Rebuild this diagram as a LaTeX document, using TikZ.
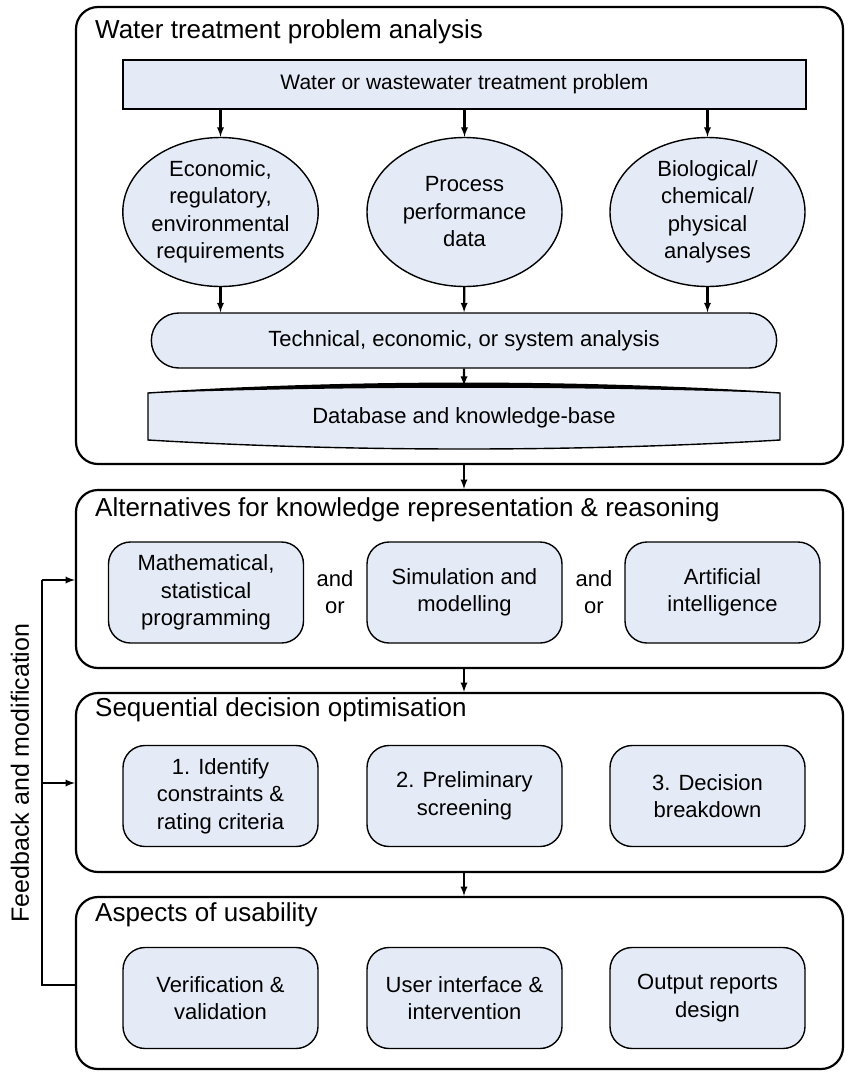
\documentclass[tikz,border=0pt]{standalone}
\usepackage{fontspec}
\setmainfont{Liberation Sans}
\usetikzlibrary{calc,shapes.geometric,shapes.misc}
\definecolor{boxfill}{RGB}{229,235,246}
\newcommand{\txtsize}{\fontsize{22}{27.5}\selectfont}
\newcommand{\titlesize}{\fontsize{26}{30}\selectfont}
\tikzset{
  section/.style={draw, line width=2.2pt, rounded corners=22pt, minimum width=767pt, inner sep=0pt},
  sectitle/.style={anchor=west, inner sep=0pt, font=\titlesize},
  item/.style={draw, fill=boxfill, line width=1.4pt, rounded corners=22pt, minimum width=195pt, minimum height=101pt, align=center, font=\txtsize},
  blob/.style={draw, fill=boxfill, line width=1.4pt, ellipse, inner sep=0pt, minimum width=195pt, minimum height=149pt, align=center, font=\txtsize},
  arr/.style={line width=2.2pt, -latex},
}

\begin{document}
\begin{tikzpicture}[x=1pt,y=-1pt]
                \useasboundingbox (0,0) rectangle (845,1072);

                \node[section, minimum height=457pt] (sec1) at (459.5,235.5) {};
                \node[section, minimum height=178pt] (sec2) at (459.5,579) {};
                \node[section, minimum height=179pt] (sec3) at (459.5,782.5) {};
                \node[section, minimum height=172pt] (sec4) at (459.5,983) {};

                \node[sectitle] (title1) at (95,32) {Water treatment problem analysis};
                \node[sectitle] (title2) at (95,510) {Alternatives for knowledge representation \& reasoning};
                \node[sectitle] (title3) at (95,710) {Sequential decision optimisation};
                \node[sectitle] (title4) at (95,915) {Aspects of usability};

                \node[draw, fill=boxfill, line width=1.4pt, minimum width=683pt, minimum height=49pt, font=\fontsize{21}{25}\selectfont] (prob) at (464.5,84.5) {Water or wastewater treatment problem};

                \node[blob] (eco) at (220.5,212) {Economic,\\regulatory,\\environmental\\requirements};
                \node[blob] (perf) at (464.5,212) {Process\\performance\\data};
                \node[blob] (bio) at (707.5,212) {Biological/\\chemical/\\physical\\analyses};

                \node[draw, fill=boxfill, line width=1.4pt, rounded rectangle, minimum width=632pt, minimum height=55pt, font=\txtsize] (tech) at (464,340.5) {Technical, economic, or system analysis};

                \coordinate (dbc) at (464,418);
                \draw[line width=1.4pt, fill=boxfill] ($(dbc)+(-316,-25)$) .. controls ($(dbc)+(-114,-38)$) and ($(dbc)+(114,-38)$) .. ($(dbc)+(316,-25)$) -- ($(dbc)+(316,22)$) .. controls ($(dbc)+(114,34)$) and ($(dbc)+(-114,34)$) .. ($(dbc)+(-316,22)$) -- cycle;
                \fill ($(dbc)+(-316,-25)$) .. controls ($(dbc)+(-114,-38)$) and ($(dbc)+(114,-38)$) .. ($(dbc)+(316,-25)$) .. controls ($(dbc)+(114,-32)$) and ($(dbc)+(-114,-32)$) .. ($(dbc)+(-316,-25)$) -- cycle;
                \node[minimum width=632pt, minimum height=64pt, inner sep=0pt, font=\txtsize] (db) at (dbc) {Database and knowledge-base};

                \draw[arr] (prob.south -| eco) -- (eco);
                \draw[arr] (prob) -- (perf);
                \draw[arr] (prob.south -| bio) -- (bio);
                \draw[arr] (eco) -- (eco |- tech.north);
                \draw[arr] (perf) -- (tech);
                \draw[arr] (bio) -- (bio |- tech.north);
                \draw[arr] (tech) -- (db);

                \node[item] (math) at (206,592.5) {Mathematical,\\statistical\\programming};
                \node[item] (sim) at (464.5,592.5) {Simulation and\\modelling};
                \node[item] (ai) at (722.5,592.5) {Artificial\\intelligence};
                \node[align=center, font=\txtsize] (andor1) at (335,592) {and\\or};
                \node[align=center, font=\txtsize] (andor2) at (594,592) {and\\or};

                \node[item] (ident) at (220.5,796) {1. Identify\\constraints \&\\rating criteria};
                \node[item] (screen) at (464.5,796) {2. Preliminary\\screening};
                \node[item] (breakdown) at (707.5,796) {3. Decision\\breakdown};

                \node[item] (verif) at (220.5,998) {Verification \&\\validation};
                \node[item] (ui) at (464.5,998) {User interface \&\\intervention};
                \node[item] (reports) at (707.5,998) {Output reports\\design};

                \draw[arr] (db.south |- sec1.south) -- (db.south |- sec2.north);
                \draw[arr] (db.south |- sec2.south) -- (db.south |- sec3.north);
                \draw[arr] (db.south |- sec3.south) -- (db.south |- sec4.north);

                \coordinate (fbA) at (42,580);
                \coordinate (fbB) at (42,783);
                \coordinate (fbC) at (42,985);
                \draw[line width=2.8pt] (fbC -| sec4.west) -- (fbC) -- (fbA);
                \draw[arr] (fbA) -- (fbA -| sec2.west);
                \draw[arr] (fbB) -- (fbB -| sec3.west);
                \node[rotate=90, font=\fontsize{25}{30}\selectfont] (fblabel) at (20,773) {Feedback and modification};
\end{tikzpicture}
\end{document}
